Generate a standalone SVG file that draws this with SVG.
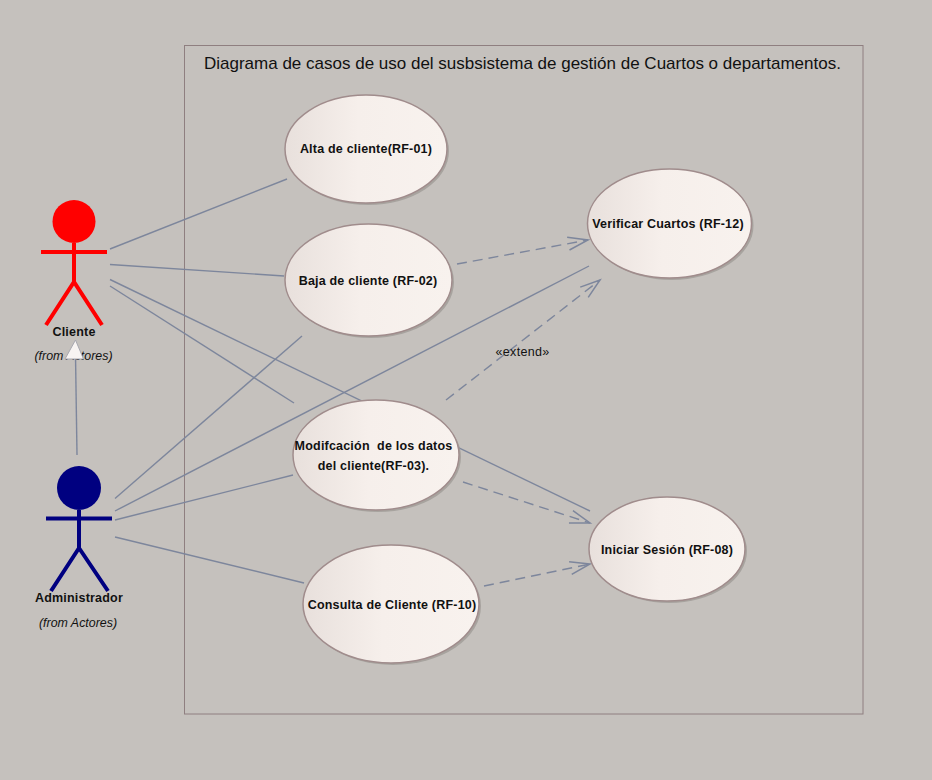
<svg xmlns="http://www.w3.org/2000/svg" width="932" height="780" viewBox="0 0 932 780">
<style>
text{font-family:"Liberation Sans",Arial,sans-serif;fill:#111;white-space:pre}
.n{font-size:12.500px;font-weight:bold;text-anchor:middle;letter-spacing:.2px}
.f{font-size:12.400px;font-style:italic;text-anchor:middle}
.e{fill:url(#g);stroke:#a08c8c;stroke-width:1.500}
.s{fill:#9a9692;opacity:.7}
.c line{stroke:#7d869c;stroke-width:1.400;fill:none}
.c line.d{stroke-dasharray:10 6;marker-end:url(#a)}
.a{stroke-width:4;fill:none;stroke-linecap:butt}
</style>
<defs>
<linearGradient id="g" x1="0" x2="1" y1="0" y2="0"><stop offset="0" stop-color="#e8e0dc"/><stop offset=".45" stop-color="#f6efeb"/><stop offset="1" stop-color="#f8f2ee"/></linearGradient>
<marker id="a" markerUnits="userSpaceOnUse" markerWidth="24" markerHeight="18" refX="21" refY="8" orient="auto"><path d="M1 1.500L21 8L1 14.500" fill="none" stroke="#7d869c" stroke-width="1.500"/></marker>
</defs>
<rect width="932" height="780" fill="#c5c1bd"/>
<rect id="frame" x="184.500" y="45.500" width="678.500" height="668.500" fill="none" stroke="#8f7f80"/>
<text id="title" x="204" y="69" font-size="17">Diagrama de casos de uso del susbsistema de gestión de Cuartos o departamentos.</text>
<g id="connectors" class="c">
<line x1="110" y1="249" x2="287" y2="179"/>
<line x1="110" y1="264.500" x2="284" y2="276"/>
<line x1="110" y1="279.500" x2="590" y2="511"/>
<line x1="110" y1="286" x2="294" y2="403"/>
<line x1="115" y1="498.500" x2="302" y2="336"/>
<line x1="115" y1="511" x2="589" y2="266"/>
<line x1="115" y1="520" x2="293" y2="475"/>
<line x1="115" y1="537" x2="304" y2="583"/>
<line x1="77" y1="455" x2="75.500" y2="355"/>
<line class="d" x1="457" y1="264" x2="588" y2="240"/>
<line class="d" x1="446" y1="400" x2="600" y2="280"/>
<line class="d" x1="463" y1="482" x2="590" y2="523"/>
<line class="d" x1="484" y1="586" x2="590" y2="564"/>
</g>
<g id="cliente">
<circle cx="74" cy="221.500" r="21.500" fill="#f00"/>
<path class="a" stroke="#f00" d="M74 243V282M41 252H107M46 325L74 282L102 325"/>
<text class="n" x="74" y="335.500">Cliente</text>
<text class="f" x="73.500" y="360">(from Actores)</text>
</g>
<polygon id="generalization" points="75.500,340 65,359 83.500,359" fill="#f8f4f2" stroke="#a8a8b0"/>
<g id="administrador">
<circle cx="79" cy="488" r="22" fill="#000080"/>
<path class="a" stroke="#000080" d="M79 510V548M46 518.500H112M51 591L79 548L108 591"/>
<text class="n" x="79" y="602">Administrador</text>
<text class="f" x="78" y="626.500">(from Actores)</text>
</g>
<g id="uc01"><ellipse class="s" cx="368" cy="151" rx="81" ry="54"/><ellipse class="e" cx="366" cy="149" rx="81" ry="54"/><text class="n" x="366" y="153">Alta de cliente(RF-01)</text></g>
<g id="uc02"><ellipse class="s" cx="370.500" cy="282" rx="83.500" ry="56"/><ellipse class="e" cx="368.500" cy="280" rx="83.500" ry="56"/><text class="n" x="368" y="284.500">Baja de cliente (RF-02)</text></g>
<g id="uc12"><ellipse class="s" cx="671.500" cy="225.500" rx="82" ry="54.500"/><ellipse class="e" cx="669.500" cy="223.500" rx="82" ry="54.500"/><text class="n" x="668" y="228">Verificar Cuartos (RF-12)</text></g>
<g id="uc03"><ellipse class="s" cx="378" cy="457" rx="83" ry="55"/><ellipse class="e" cx="376" cy="455" rx="83" ry="55"/><text class="n" x="373.500" y="450">Modifcación  de los datos</text><text class="n" x="373.500" y="469.500">del cliente(RF-03).</text></g>
<g id="uc10"><ellipse class="s" cx="393" cy="606" rx="88" ry="59"/><ellipse class="e" cx="391" cy="604" rx="88" ry="59"/><text class="n" x="392" y="608.500">Consulta de Cliente (RF-10)</text></g>
<g id="uc08"><ellipse class="s" cx="669" cy="551" rx="78" ry="52"/><ellipse class="e" cx="667" cy="549" rx="78" ry="52"/><text class="n" x="667" y="553.500">Iniciar Sesión (RF-08)</text></g>
<text id="extend" x="522.500" y="356" font-size="12.500" letter-spacing=".3" text-anchor="middle">«extend»</text>
</svg>
